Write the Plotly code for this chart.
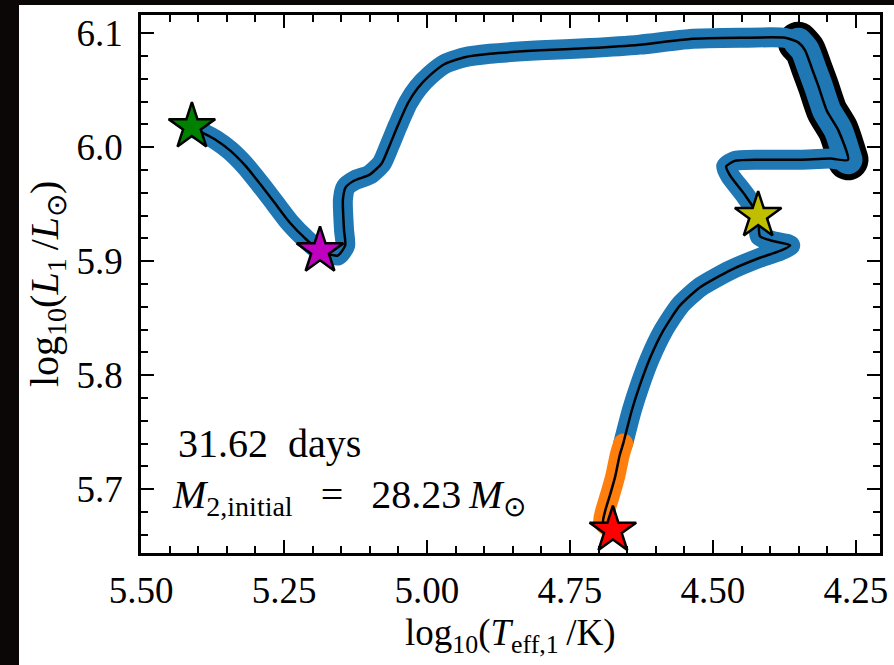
import plotly.graph_objects as go

# ---- data ----
# orange phase (start of track)
orange_x = [4.675, 4.692, 4.689, 4.680, 4.671, 4.663, 4.657]
orange_y = [5.664, 5.671, 5.680, 5.695, 5.711, 5.730, 5.740]

# blue phase (rest of track, time order)
blue_x = [4.657, 4.642, 4.628, 4.610, 4.587, 4.558, 4.523, 4.470, 4.418, 4.383,
          4.365, 4.397, 4.418, 4.421, 4.444, 4.470, 4.477, 4.462, 4.418, 4.348,
          4.295, 4.264, 4.281, 4.301, 4.316, 4.327, 4.339, 4.351,
          4.374, 4.453, 4.540, 4.628, 4.715, 4.802, 4.890, 4.934, 4.969, 4.995,
          5.016, 5.033, 5.051, 5.065, 5.079, 5.100, 5.126, 5.142, 5.147, 5.145,
          5.143, 5.156, 5.187,
          5.213, 5.240, 5.266, 5.292, 5.318, 5.344, 5.371, 5.397, 5.411]
blue_y = [5.740, 5.769, 5.791, 5.815, 5.839, 5.861, 5.877, 5.892, 5.903, 5.909,
          5.914, 5.918, 5.922, 5.940, 5.958, 5.975, 5.983, 5.988, 5.989, 5.989,
          5.990, 5.989, 6.015, 6.032, 6.054, 6.069, 6.085, 6.092,
          6.096, 6.096, 6.095, 6.090, 6.087, 6.085, 6.082, 6.079, 6.073, 6.063,
          6.052, 6.039, 6.019, 6.002, 5.986, 5.976, 5.971, 5.965, 5.954, 5.927,
          5.914, 5.905, 5.909,
          5.920, 5.934, 5.951, 5.968, 5.984, 5.997, 6.007, 6.014, 6.018]

# black phase (wide segment on the cool side)
black_x = [4.264, 4.281, 4.301, 4.316, 4.327, 4.339, 4.351]
black_y = [5.989, 6.015, 6.032, 6.054, 6.069, 6.085, 6.092]

# star markers
star_x = [4.675, 4.421, 5.187, 5.411]
star_y = [5.664, 5.940, 5.909, 6.018]
star_colors = ["#ff0000", "#bfbf00", "#bf00bf", "#008000"]

TS = "\u2009"  # thin space
NB = "\u00a0"
period_text = "31.62" + NB * 2 + "days"
mass_text = ("<i>M</i><sub>2,initial</sub>" + NB * 2 + TS + "=" + NB * 2 + TS + "28.23" + TS +
             "<i>M</i><sub>⊙</sub>")
xtitle_text = "log<sub>10</sub>(<i>T</i><sub>eff,1</sub>" + TS + "/K)"
ytitle_text = "log<sub>10</sub>(<i>L</i><sub>1</sub>" + TS + "/<i>L</i><sub>⊙</sub>)"

track_x = orange_x + blue_x[1:]
track_y = orange_y + blue_y[1:]

BLUE = "#1f77b4"
ORANGE = "#ff7f0e"
FONT = "Liberation Serif"
SM = 0.6

fig = go.Figure()
fig.add_trace(go.Scatter(x=black_x, y=black_y, mode="lines",
                         line=dict(color="black", width=41, shape="spline", smoothing=SM),
                         hoverinfo="skip"))
fig.add_trace(go.Scatter(x=black_x, y=black_y, mode="lines",
                         line=dict(color=BLUE, width=29, shape="spline", smoothing=SM),
                         hoverinfo="skip"))
fig.add_trace(go.Scatter(x=blue_x, y=blue_y, mode="lines",
                         line=dict(color=BLUE, width=20, shape="spline", smoothing=SM),
                         hoverinfo="skip"))
fig.add_trace(go.Scatter(x=orange_x, y=orange_y, mode="lines",
                         line=dict(color=ORANGE, width=20, shape="spline", smoothing=SM),
                         hoverinfo="skip"))
fig.add_trace(go.Scatter(x=track_x, y=track_y, mode="lines",
                         line=dict(color="black", width=2.5, shape="spline", smoothing=SM),
                         hoverinfo="skip"))
fig.add_trace(go.Scatter(x=star_x, y=star_y, mode="markers",
                         marker=dict(symbol="star", size=35, color=star_colors,
                                     line=dict(color="black", width=2.5)),
                         hoverinfo="skip"))

W, H = 894, 665
L, R, T, B = 141, 14, 15, 112
pw, ph = W - L - R, H - T - B

def px2paper_x(px):
    return (px - L) / pw

def px2paper_y(py):
    return (H - B - py) / ph

axis_common = dict(
    showline=True, linecolor="black", linewidth=2.5, mirror="ticks",
    ticks="inside", ticklen=13, tickwidth=2, tickcolor="black",
    showgrid=False, zeroline=False, automargin=False,
    tickfont=dict(family=FONT, size=37, color="black"),
)

fig.update_xaxes(range=[5.5, 4.208], tick0=5.5, dtick=0.25, tickformat=".2f",
                 minor=dict(ticks="inside", ticklen=7, tickwidth=1.5, dtick=0.05,
                            tickcolor="black", showgrid=False),
                 ticklabelstandoff=3, **axis_common)
fig.update_yaxes(range=[5.644, 6.116], tick0=5.7, dtick=0.1, tickformat=".1f",
                 minor=dict(ticks="inside", ticklen=7, tickwidth=1.5, dtick=0.02,
                            tickcolor="black", showgrid=False),
                 ticklabelstandoff=8, **axis_common)

annotations = [
    dict(text=period_text, x=px2paper_x(176), y=px2paper_y(443), xref="paper", yref="paper",
         xanchor="left", yanchor="middle", showarrow=False,
         font=dict(family=FONT, size=40, color="black")),
    dict(text=mass_text, x=px2paper_x(170), y=px2paper_y(497), xref="paper", yref="paper",
         xanchor="left", yanchor="middle", showarrow=False,
         font=dict(family=FONT, size=40, color="black")),
    dict(text=xtitle_text, x=0.5, y=px2paper_y(636),
         xref="paper", yref="paper", xanchor="center", yanchor="middle", showarrow=False,
         font=dict(family=FONT, size=37, color="black")),
    dict(text=ytitle_text, x=px2paper_x(47), y=0.5,
         xref="paper", yref="paper", xanchor="center", yanchor="middle", showarrow=False,
         textangle=-90, font=dict(family=FONT, size=40, color="black")),
]

shapes = [dict(type="rect", xref="paper", yref="paper", layer="below",
               x0=px2paper_x(19), x1=px2paper_x(W + 5), y0=px2paper_y(H + 5), y1=px2paper_y(5),
               fillcolor="white", line=dict(width=0))]

fig.update_layout(width=W, height=H, margin=dict(l=L, r=R, t=T, b=B, autoexpand=False),
                  paper_bgcolor="#0b0707", plot_bgcolor="white",
                  showlegend=False, annotations=annotations, shapes=shapes,
                  font=dict(family=FONT, color="black"))

post = """
document.body.style.margin='0';
document.body.style.padding='0';
document.body.style.overflow='hidden';
document.querySelectorAll('path.js-line').forEach(function(p){
  p.style.strokeLinejoin='round'; p.style.strokeLinecap='round';
});
"""
fig.write_html("out.html", post_script=post, config={"displayModeBar": False})
